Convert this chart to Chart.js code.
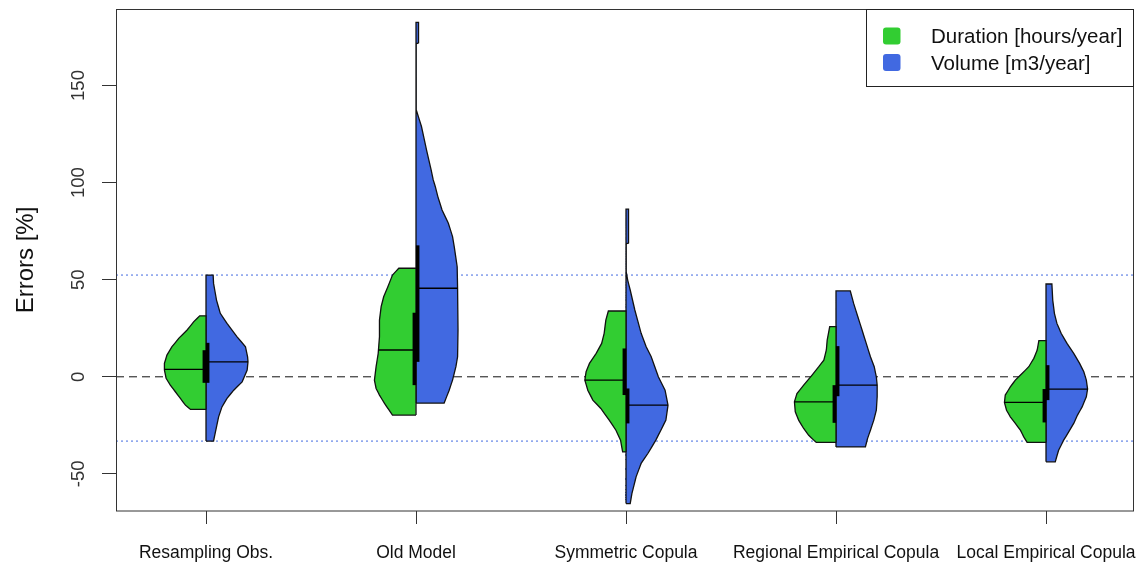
<!DOCTYPE html>
<html>
<head>
<meta charset="utf-8">
<script src="https://cdn.jsdelivr.net/npm/chart.js@4.4.1/dist/chart.umd.min.js"></script>
<style>
  html, body { margin: 0; padding: 0; background: #fff; }
  canvas { display: block; }
</style>
</head>
<body>
<canvas id="errorsChart" width="1136" height="567"></canvas>
<script>
const categories = ['Resampling Obs.', 'Old Model', 'Symmetric Copula', 'Regional Empirical Copula', 'Local Empirical Copula'];
const seriesNames = ['Duration [hours/year]', 'Volume [m3/year]'];
const seriesColors = ['#32CD32', '#4169E1'];
const yTicks = [-50, 0, 50, 100, 150];

// density profiles, bottom to top: [error %, relative density]
const resamplingDuration = [[-16.8, .37], [-14.6, .49], [-11.1, .61], [-7.7, .73], [-4.3, .85], [-0.8, .95], [3.5, .99], [6.9, .99], [11.2, .93], [15.5, .81], [19.8, .65], [24.1, .45], [28.4, .29], [31.4, .15]];
const resamplingVolume = [[-33.1, .18], [-30.9, .20], [-25.8, .25], [-20.6, .30], [-15.5, .38], [-11.1, .50], [-6.9, .66], [-2.6, .86], [3.5, .98], [7.7, 1.0], [10.3, .99], [15.5, .94], [20.6, .74], [27.5, .50], [32.7, .34], [39.5, .25], [48.1, .18], [52.4, .17]];
const oldModelDuration = [[-19.7, .56], [-17.2, .64], [-13.7, .75], [-9.4, .87], [-6.0, .95], [-1.7, .99], [5.2, .95], [12.1, .90], [20.6, .87], [29.2, .87], [36.1, .83], [41.2, .77], [46.4, .67], [52.4, .56], [55.9, .41]];
const oldModelVolume = [[-13.5, .67], [-6.9, .79], [-1.7, .87], [5.2, .95], [10.3, .99], [24.1, 1.0], [45.6, .99], [56.7, .98], [67.0, .91], [72.2, .87], [79.1, .77], [85.9, .62], [92.8, .52], [97.9, .46], [101.4, .41], [106.5, .36], [116.9, .25], [128.9, .13], [137.5, .005], [171.5, .005], [172.0, .06], [182.5, .06]];
const symmetricDuration = [[-38.7, .08], [-32.6, .13], [-27.5, .24], [-22.3, .40], [-16.3, .60], [-12.0, .79], [-6.9, .91], [-1.7, .98], [2.6, .95], [6.9, .87], [12.1, .71], [17.2, .58], [22.4, .52], [29.2, .48], [33.9, .42]];
const symmetricVolume = [[-65.3, .10], [-60.1, .14], [-55.0, .20], [-51.5, .24], [-44.6, .36], [-39.5, .52], [-32.6, .71], [-27.5, .83], [-22.3, .95], [-14.6, 1.0], [-6.9, .93], [0, .77], [10.3, .60], [15.5, .48], [22.4, .36], [34.4, .21], [44.7, .10], [49.8, .04], [54.1, .005], [68.5, .005], [68.8, .06], [86.3, .06]];
const regionalDuration = [[-33.8, .47], [-32.6, .53], [-30.1, .65], [-26.6, .77], [-22.3, .89], [-18.0, .97], [-12.9, .99], [-8.6, .93], [-4.3, .77], [0.9, .57], [5.2, .41], [8.6, .29], [13.8, .23], [18.9, .21], [25.8, .15]];
const regionalVolume = [[-36.1, .70], [-31.8, .75], [-27.5, .82], [-22.3, .90], [-17.2, .96], [-10.3, .98], [-4.3, .98], [0, .96], [5.2, .91], [10.3, .82], [17.2, .72], [24.1, .62], [30.9, .52], [37.8, .42], [44.2, .34]];
const localDuration = [[-33.8, .45], [-30.9, .53], [-27.5, .61], [-24.0, .73], [-20.6, .85], [-17.2, .94], [-13.2, .99], [-9.4, .97], [-5.2, .85], [-1.7, .73], [1.7, .57], [5.2, .41], [9.5, .29], [13.8, .21], [18.6, .17]];
const localVolume = [[-43.8, .22], [-37.8, .30], [-32.6, .42], [-28.4, .54], [-24.0, .66], [-19.7, .75], [-15.5, .86], [-10.3, .96], [-6.3, .99], [-1.7, .96], [2.6, .90], [6.9, .80], [12.1, .66], [17.2, .50], [22.4, .36], [27.5, .26], [32.7, .20], [39.5, .16], [47.8, .14]];

const durationMedians = [3.8, 13.8, -1.7, -12.9, -13.2];
const volumeMedians = [7.7, 45.6, -14.6, -4.3, -6.3];
const durationBoxes = [[-3.1, 13.7], [-4.3, 33.0], [-9.4, 14.6], [-23.7, -4.3], [-23.5, -6.3]];
const volumeBoxes = [[-3.1, 17.5], [7.7, 67.7], [-24.0, -6.0], [-10.0, 15.8], [-12.0, 6.0]];
// range of the resampled observations (volume)
const observedRange = [52.4, -33.1];

const durationProfiles = [resamplingDuration, oldModelDuration, symmetricDuration, regionalDuration, localDuration];
const volumeProfiles = [resamplingVolume, oldModelVolume, symmetricVolume, regionalVolume, localVolume];

const HALF_WIDTH = 0.2;     // half-violin width at density 1, in category units
const BOX_OFFSET = 0.008;   // thick IQR bars sit just beside the centre line
const X_MIN = 0.5714, X_MAX = 5.419;
const Y_MIN = -69.1, Y_MAX = 189.4;
const FONT = '"Liberation Sans", Arial, sans-serif';

function halfViolin(center, profile, side) {
  const pts = [{x: center, y: profile[0][0]}];
  profile.forEach(([v, d]) => pts.push({x: center + side * d * HALF_WIDTH, y: v}));
  pts.push({x: center, y: profile[profile.length - 1][0]});
  pts.push({x: center, y: profile[0][0]});
  return pts;
}

function densityAt(profile, v) {
  for (let i = 1; i < profile.length; i++) {
    const [v0, d0] = profile[i - 1];
    const [v1, d1] = profile[i];
    if (v >= v0 && v <= v1) return d0 + (d1 - d0) * (v - v0) / (v1 - v0);
  }
  return 0;
}

const datasets = [];

observedRange.concat([0]).forEach((v, i) => {
  const isZero = i === observedRange.length;
  datasets.push({
    data: [{x: X_MIN, y: v}, {x: X_MAX, y: v}],
    showLine: true, pointRadius: 0, order: 4,
    borderColor: isZero ? '#111' : '#4169E1',
    borderWidth: 1,
    borderDash: isZero ? [8, 5] : [2, 3]
  });
});

[durationProfiles, volumeProfiles].forEach((profiles, s) => {
  const side = s === 0 ? -1 : 1;
  const medians = s === 0 ? durationMedians : volumeMedians;
  const boxes = s === 0 ? durationBoxes : volumeBoxes;
  profiles.forEach((profile, i) => {
    const c = i + 1;
    datasets.push({
      data: halfViolin(c, profile, side),
      showLine: true, pointRadius: 0, order: 3,
      fill: 'shape', tension: 0.0001,
      backgroundColor: seriesColors[s],
      borderColor: '#111', borderWidth: 1.3
    });
    const m = medians[i];
    datasets.push({
      data: [{x: c, y: m}, {x: c + side * densityAt(profile, m) * HALF_WIDTH, y: m}],
      showLine: true, pointRadius: 0, order: 2,
      borderColor: '#000', borderWidth: 1.3
    });
    datasets.push({
      data: [{x: c + side * BOX_OFFSET, y: boxes[i][0]}, {x: c + side * BOX_OFFSET, y: boxes[i][1]}],
      showLine: true, pointRadius: 0, order: 1,
      borderColor: '#000', borderWidth: 3.5
    });
  });
});

// box round the plotting region
const plotFrame = {
  id: 'plotFrame',
  afterDatasetsDraw(chart) {
    const {left, top, right, bottom} = chart.chartArea;
    const ctx = chart.ctx;
    ctx.save();
    ctx.strokeStyle = '#333';
    ctx.lineWidth = 1;
    ctx.strokeRect(left + 0.5, top + 0.5, right - left - 1, bottom - top - 0.5);
    ctx.restore();
  }
};

// legend box in the top right corner
const legendBox = {
  id: 'legendBox',
  afterDraw(chart) {
    const {top, right} = chart.chartArea;
    const ctx = chart.ctx;
    const w = 268, h = 77, left = right - w;
    ctx.save();
    ctx.fillStyle = '#fff';
    ctx.fillRect(left, top, w, h);
    ctx.strokeStyle = '#222';
    ctx.lineWidth = 1;
    ctx.strokeRect(left + 0.5, top + 0.5, w - 1, h);
    ctx.font = '20.5px ' + FONT;
    ctx.textBaseline = 'middle';
    seriesNames.forEach((name, i) => {
      const y = top + 27 + i * 26.5;
      ctx.fillStyle = seriesColors[i];
      ctx.beginPath();
      ctx.roundRect(left + 17, y - 8.5, 17.5, 17, 3);
      ctx.fill();
      ctx.fillStyle = '#111';
      ctx.fillText(name, left + 65, y + 1.5);
    });
    ctx.restore();
  }
};

new Chart(document.getElementById('errorsChart'), {
  type: 'scatter',
  data: { datasets: datasets },
  plugins: [plotFrame, legendBox],
  options: {
    responsive: false,
    animation: false,
    layout: { padding: { top: 9, right: 2, bottom: 0, left: 0 } },
    scales: {
      x: {
        type: 'linear',
        min: X_MIN, max: X_MAX,
        border: { display: false },
        grid: { drawOnChartArea: false, tickLength: 13, color: '#333' },
        afterBuildTicks: (scale) => { scale.ticks = categories.map((_, i) => ({value: i + 1})); },
        afterFit: (scale) => { scale.height = 56; scale.paddingLeft = 0; scale.paddingRight = 0; },
        ticks: {
          autoSkip: false, minRotation: 0, maxRotation: 0,
          padding: 19,
          color: '#111',
          font: { family: FONT, size: 17.5 },
          callback: (value) => categories[Math.round(value) - 1]
        }
      },
      y: {
        min: Y_MIN, max: Y_MAX,
        border: { display: false },
        grid: { drawOnChartArea: false, tickLength: 14, color: '#333' },
        afterBuildTicks: (scale) => { scale.ticks = yTicks.map(v => ({value: v})); },
        afterFit: (scale) => { scale.width = 116; scale.paddingTop = 0; scale.paddingBottom = 0; },
        title: {
          display: true, text: 'Errors [%]', color: '#111',
          font: { family: FONT, size: 24 },
          padding: { top: 12, bottom: 0 }
        },
        ticks: {
          minRotation: 90, maxRotation: 90,
          crossAlign: 'center',
          padding: 8,
          color: '#333',
          font: { family: FONT, size: 18.5 }
        }
      }
    },
    plugins: {
      legend: { display: false },
      tooltip: { enabled: false }
    }
  }
});
</script>
</body>
</html>
